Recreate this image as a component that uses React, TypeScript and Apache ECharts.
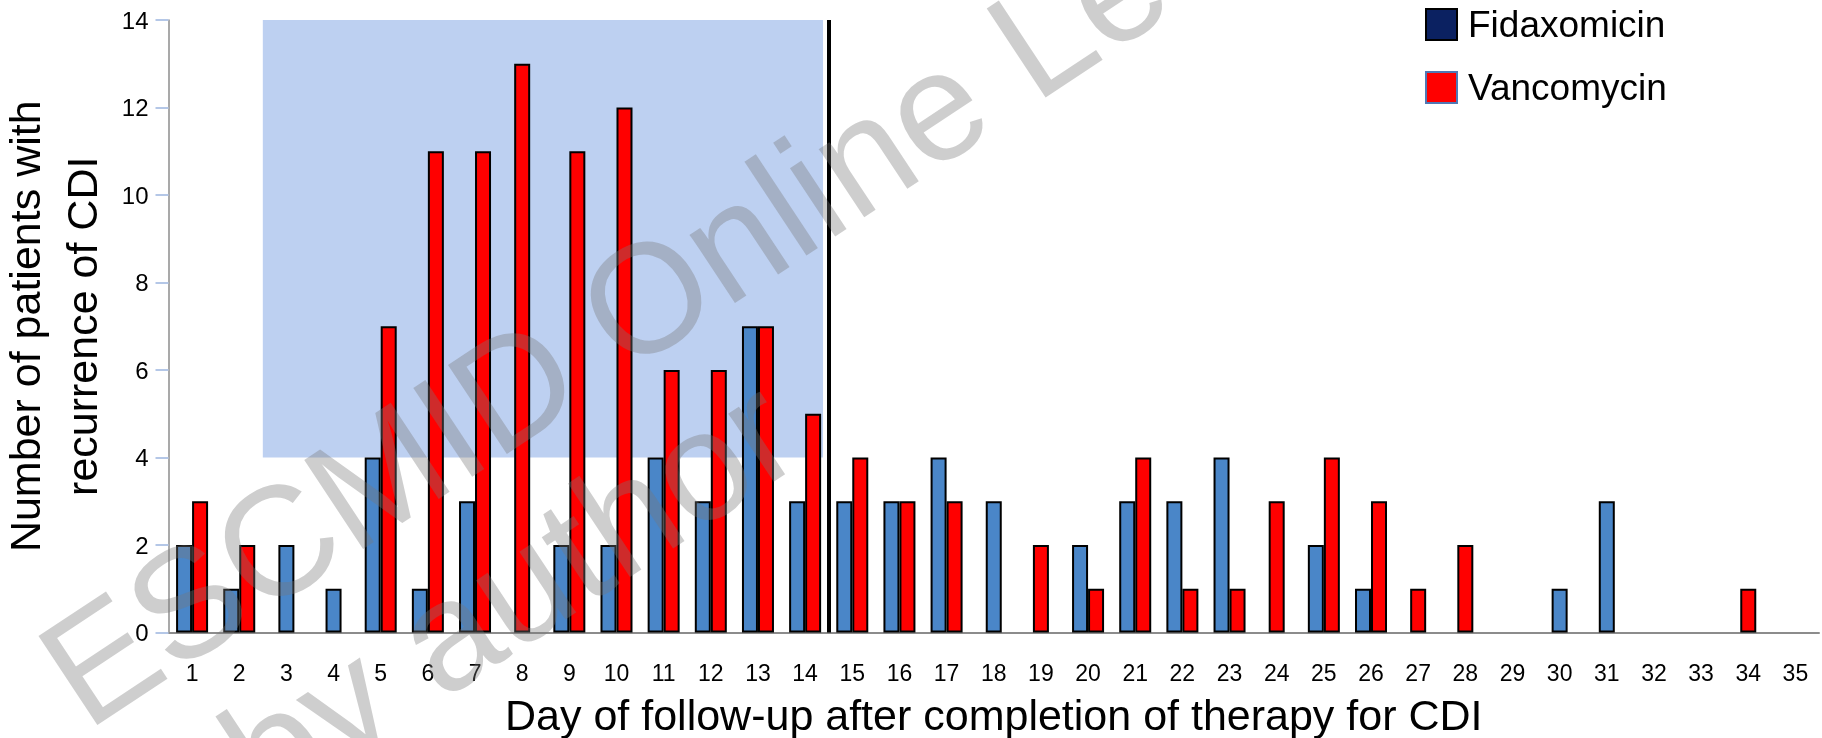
import React, { useEffect, useRef } from "react";
import * as echarts from "echarts";

const days = ["1","2","3","4","5","6","7","8","9","10","11","12","13","14","15","16","17","18","19","20","21","22","23","24","25","26","27","28","29","30","31","32","33","34","35"];
const fidaxomicin = [2,1,2,1,4,1,3,0,2,2,4,3,7,3,3,3,4,3,0,2,3,3,4,0,2,1,0,0,0,1,3,0,0,0,0];
const vancomycin = [3,2,0,0,7,11,11,13,11,12,6,6,7,5,4,3,3,0,2,1,4,1,1,3,4,3,1,2,0,0,0,0,0,1,0];
const yTicks = { min: 0, max: 14, interval: 2 };
const shadedDays = [2.5, 14.38];
const shadedCounts = [4, 14];
const cutoffDay = 14.5;
const xTitle = "Day of follow-up after completion of therapy for CDI";
const yTitle = "Number of patients with\nrecurrence of CDI";
const watermark1 = "ESCMID Online Lecture Library";
const watermark2 = "by author";

const FONT = "'Liberation Sans', Arial, Helvetica, sans-serif";
const BLUE = "#4a86c8";
const RED = "#ff0000";

export default function App() {
  const ref = useRef<HTMLDivElement>(null);
  useEffect(() => {
    if (!ref.current) return;
    const chart = echarts.init(ref.current, undefined, { renderer: "svg" });
    const both = fidaxomicin.map((f, i) => f > 0 && vancomycin[i] > 0);
    const pairF = fidaxomicin.map((v, i) => (both[i] ? v : "-"));
    const pairV = vancomycin.map((v, i) => (both[i] ? v : "-"));
    const soloF = fidaxomicin.map((v, i) => (!both[i] && v > 0 ? v : "-"));
    const soloV = vancomycin.map((v, i) => (!both[i] && v > 0 ? v : "-"));
    const barStyle = (c: string) => ({ color: c, borderColor: "#000", borderWidth: 2 });
    const ang = 0.585;
    const wmFill = "rgba(120,120,120,0.36)";
    chart.setOption({
      animation: false,
      textStyle: { fontFamily: FONT },
      grid: { left: 168.5, right: 3, top: 20, bottom: 105.5, containLabel: false, outerBoundsMode: "none" },
      legend: {
        orient: "vertical",
        left: 1420,
        top: 1,
        icon: "rect",
        itemWidth: 31,
        itemHeight: 31,
        itemGap: 26,
        selectedMode: false,
        textStyle: { fontSize: 37, color: "#000", fontFamily: FONT, padding: [0, 0, 0, 6] },
        data: [
          { name: "Fidaxomicin", itemStyle: { color: "#0b2161", borderColor: "#000", borderWidth: 2 } },
          { name: "Vancomycin", itemStyle: { color: RED, borderColor: "#5078b4", borderWidth: 2 } },
        ],
      },
      xAxis: [
        {
          type: "category",
          data: days,
          axisLine: { lineStyle: { color: "#8c8c8c", width: 2 } },
          axisTick: { show: false },
          axisLabel: { fontSize: 23, color: "#000", margin: 29, interval: 0, fontFamily: FONT },
          name: xTitle,
          nameLocation: "middle",
          nameGap: 61,
          nameTextStyle: { fontSize: 43, color: "#000", fontFamily: FONT },
        },
        { type: "category", data: days, show: false },
        { type: "value", min: 0.5, max: 35.5, show: false },
      ],
      yAxis: {
        type: "value",
        min: yTicks.min,
        max: yTicks.max,
        interval: yTicks.interval,
        splitLine: { show: false },
        axisLine: { show: true, lineStyle: { color: "#8c8c8c", width: 1.5 } },
        axisTick: { show: true, length: 13, lineStyle: { color: "#b4c7e7", width: 2 } },
        axisLabel: { fontSize: 24, color: "#000", margin: 20, fontFamily: FONT },
        name: yTitle,
        nameLocation: "middle",
        nameRotate: 90,
        nameGap: 50,
        nameTextStyle: { fontSize: 43, lineHeight: 57, color: "#000", fontFamily: FONT },
      },
      series: [
        {
          name: "annotation",
          type: "line",
          xAxisIndex: 2,
          data: [],
          z: 0,
          silent: true,
          markArea: {
            silent: true,
            itemStyle: { color: "#bdd0f1" },
            data: [[{ coord: [shadedDays[0], shadedCounts[0]] }, { coord: [shadedDays[1], shadedCounts[1]] }]],
          },
          markLine: {
            silent: true,
            symbol: "none",
            label: { show: false },
            lineStyle: { color: "#000", width: 4, type: "solid" },
            data: [{ xAxis: cutoffDay }],
          },
        },
        { name: "Fidaxomicin", type: "bar", xAxisIndex: 0, data: pairF, barWidth: 16, barGap: "0%", itemStyle: barStyle(BLUE), z: 3 },
        { name: "Vancomycin", type: "bar", xAxisIndex: 0, data: pairV, barWidth: 16, barGap: "0%", itemStyle: barStyle(RED), z: 3 },
        { name: "Fidaxomicin", type: "bar", xAxisIndex: 1, data: soloF, barWidth: 16, barGap: "-100%", itemStyle: barStyle(BLUE), z: 3 },
        { name: "Vancomycin", type: "bar", xAxisIndex: 1, data: soloV, barWidth: 16, barGap: "-100%", itemStyle: barStyle(RED), z: 3 },
      ],
      graphic: [
        {
          type: "text",
          x: 100,
          y: 752,
          rotation: ang,
          z: 100,
          silent: true,
          style: { text: watermark1, font: `155px ${FONT}`, fill: wmFill, align: "left", verticalAlign: "bottom" },
        },
        {
          type: "text",
          x: 282,
          y: 836,
          rotation: ang,
          z: 100,
          silent: true,
          style: { text: watermark2, font: `155px ${FONT}`, fill: wmFill, align: "left", verticalAlign: "bottom" },
        },
      ],
    });
    return () => chart.dispose();
  }, []);
  return <div ref={ref} style={{ position: "fixed", left: 0, top: 0, width: 1822, height: 738 }} />;
}
